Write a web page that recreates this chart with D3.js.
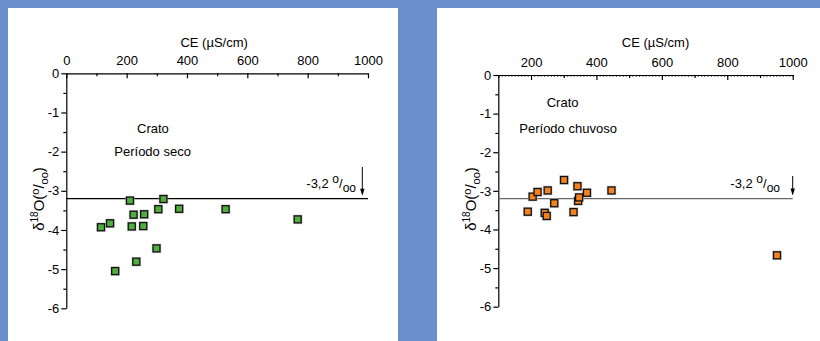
<!DOCTYPE html>
<html><head><meta charset="utf-8">
<script src="https://cdn.jsdelivr.net/npm/d3@7"></script>
<style>
html,body{margin:0;padding:0;background:#6A8FCB;}
svg{display:block;font-family:"Liberation Sans",Arial,sans-serif;}
</style></head>
<body>
<svg id="c" width="820" height="341"></svg>
<script>
// ---- data ----
const drySeasonCE   = [115,145,162,211,223,217,232,258,255,299,305,322,374,528,767];
const drySeasonD18O = [-3.93,-3.83,-5.05,-3.25,-3.61,-3.91,-4.81,-3.60,-3.90,-4.47,-3.47,-3.21,-3.46,-3.47,-3.73];
const wetSeasonCE   = [190,205,220,242,248,251,271,301,330,342,344,347,371,446,952];
const wetSeasonD18O = [-3.54,-3.15,-3.03,-3.57,-3.65,-2.99,-3.32,-2.72,-3.55,-2.88,-3.26,-3.17,-3.05,-2.99,-4.67];
const yTicks = [0,-1,-2,-3,-4,-5,-6];
const leftXTicks = [0,200,400,600,800,1000];
const rightXTicks = [200,400,600,800,1000];
const refValue = -3.2;

const svg = d3.select("#c");
svg.append("rect").attr("width",820).attr("height",341).attr("fill","#6A8FCB");

function panel(o){
  const g = svg.append("g");
  g.append("rect").attr("x",o.bx).attr("y",8).attr("width",o.bw).attr("height",333).attr("fill","#fff");
  const x = d3.scaleLinear().domain(o.xdom).range(o.xr);
  const y = d3.scaleLinear().domain([0,-6]).range(o.yr);
  const x0 = x.range()[0], y0 = y(0);

  // minor x ticks
  if (o.fineTicks) {
    const fine = d3.range(o.xdom[0], o.xdom[1]+1, 10);
    g.append("g").attr("transform",`translate(0,${y0})`)
      .call(d3.axisTop(x).tickValues(fine).tickSize(-1.6).tickFormat(""))
      .call(a=>a.select(".domain").remove())
      .selectAll("line").attr("stroke","#444").attr("stroke-width",0.8);
  }
  const minorX = d3.range(o.xdom[0], o.xdom[1]+1, 100).filter(v=>v%200!==0);
  g.append("g").attr("transform",`translate(0,${y0})`)
    .call(d3.axisTop(x).tickValues(minorX).tickSize(-3).tickFormat(""))
    .call(a=>a.select(".domain").remove());
  const xa = g.append("g").attr("transform",`translate(0,${y0})`)
    .call(d3.axisTop(x).tickValues(o.xticks).tickSize(-5).tickSizeOuter(0).tickPadding(8).tickFormat(d=>String(d)));
  xa.selectAll("text").attr("font-size",13).attr("font-family","Liberation Sans, Arial, sans-serif").attr("fill","#000");

  // minor y ticks
  g.append("g").attr("transform",`translate(${x0},0)`)
    .call(d3.axisLeft(y).tickValues([-0.5,-1.5,-2.5,-3.5,-4.5,-5.5]).tickSize(3).tickFormat(""))
    .call(a=>a.select(".domain").remove());
  const ya = g.append("g").attr("transform",`translate(${x0},0)`)
    .call(d3.axisLeft(y).tickValues(yTicks).tickSize(5).tickSizeOuter(0).tickPadding(2).tickFormat(d=>String(d)));
  ya.selectAll("text").attr("font-size",13).attr("font-family","Liberation Sans, Arial, sans-serif").attr("fill","#000");
  g.selectAll(".domain, .tick line").attr("stroke","#000").attr("stroke-width",1.2);

  // axis title
  g.append("text").attr("x",(o.xr[0]+o.xr[1])/2 + o.titleDx).attr("y",47)
    .attr("text-anchor","middle").attr("font-size",13).text("CE (\u00B5S/cm)");

  // y title
  const yt = g.append("text").attr("transform",`translate(${o.ytx},${o.yty}) rotate(-90)`)
    .attr("text-anchor","middle").attr("font-size",15).attr("fill","#000");
  yt.append("tspan").text("\u03B4");
  yt.append("tspan").attr("dy",-6).attr("font-size",10).text("18");
  yt.append("tspan").attr("dy",6).text("O(");
  yt.append("tspan").attr("dy",-5).attr("font-size",11).text("o");
  yt.append("tspan").attr("dy",5).text("/");
  yt.append("tspan").attr("dy",4).attr("font-size",11).text("oo");
  yt.append("tspan").attr("dy",-4).text(")");

  // labels
  g.append("text").attr("x",o.l1[0]).attr("y",o.l1[1]).attr("font-size",13).text("Crato");
  g.append("text").attr("x",o.l2[0]).attr("y",o.l2[1]).attr("font-size",13).text(o.season);

  // reference line
  g.append("line").attr("x1",x0).attr("x2",x.range()[1]).attr("y1",y(refValue)).attr("y2",y(refValue))
    .attr("stroke",o.refColor).attr("stroke-width",1.3);
  const at = g.append("text").attr("x",o.annX).attr("y",y(refValue)-11).attr("text-anchor","end")
    .attr("font-size",13).attr("fill","#000");
  at.append("tspan").text("-3,2 ");
  at.append("tspan").attr("dy",-5).attr("font-size",12).text("o");
  at.append("tspan").attr("dy",5).text("/");
  at.append("tspan").attr("dy",4).attr("font-size",12).text("oo");
  // arrow
  g.append("line").attr("x1",o.arrX).attr("x2",o.arrX).attr("y1",o.arrTop).attr("y2",y(refValue)-9)
    .attr("stroke","#000").attr("stroke-width",1);
  g.append("path").attr("d",`M${o.arrX-2.2},${y(refValue)-10} L${o.arrX+2.2},${y(refValue)-10} L${o.arrX},${y(refValue)-3} Z`).attr("fill","#000");

  // markers
  const data = o.xs.map((v,i)=>({x:v,y:o.ys[i]}));
  const s = 7;
  g.selectAll(".sh").data(data).join("rect")
    .attr("x",d=>x(d.x)-s/2-1.3).attr("y",d=>y(d.y)-s/2-1.3).attr("width",s+2.6).attr("height",s+2.6)
    .attr("fill","#bbb").attr("opacity",0.7);
  g.selectAll(".pt").data(data).join("rect")
    .attr("x",d=>x(d.x)-s/2).attr("y",d=>y(d.y)-s/2).attr("width",s).attr("height",s)
    .attr("fill",o.color).attr("stroke","#111").attr("stroke-width",1.3);
}

panel({bx:8,bw:390,xdom:[0,1000],xr:[66.3,368],yr:[73.3,308.3],xticks:leftXTicks,fineTicks:false,
  titleDx:-3,ytx:44,yty:199,l1:[137,133],l2:[114.3,155.5],season:"Per\u00EDodo seco",
  refColor:"#000",annX:356,arrX:362.3,arrTop:167,xs:drySeasonCE,ys:drySeasonD18O,color:"#4FAE3E"});
panel({bx:437,bw:383,xdom:[100,1000],xr:[498.3,792.7],yr:[75,306.7],xticks:rightXTicks,fineTicks:true,
  titleDx:10,ytx:476,yty:199,l1:[546.7,106.5],l2:[519.3,132.5],season:"Per\u00EDodo chuvoso",
  refColor:"#666",annX:780,arrX:792.7,arrTop:176,xs:wetSeasonCE,ys:wetSeasonD18O,color:"#F2811F"});
</script>
</body></html>
